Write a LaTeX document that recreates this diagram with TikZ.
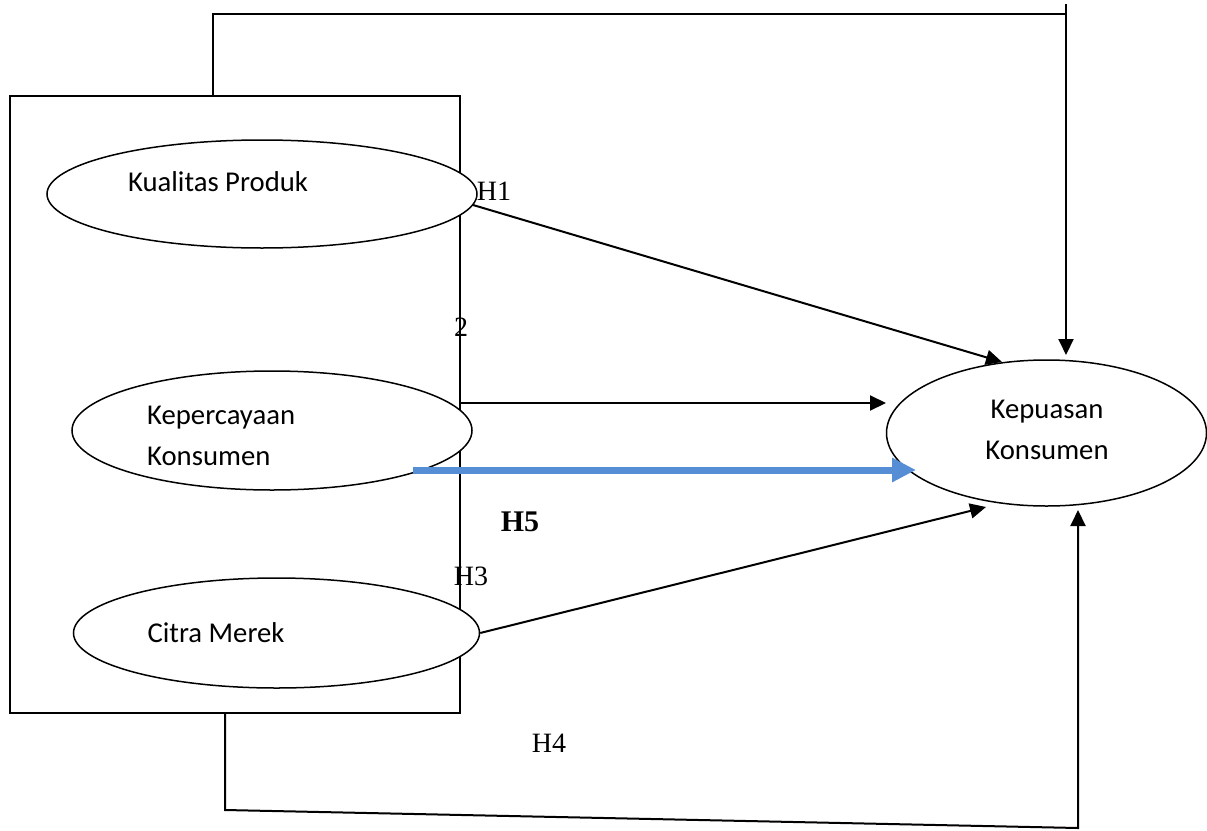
\documentclass[tikz,border=0pt]{standalone}
\usepackage{fontspec}
\setmainfont{Liberation Serif}
\newfontfamily\calib{Carlito}
\usetikzlibrary{shapes.geometric,arrows.meta}
\definecolor{arrowblue}{RGB}{85,142,213}
\begin{document}
\begin{tikzpicture}[x=1pt,y=-1pt,
  oval/.style={draw=black,fill=white,ellipse,line width=1.5pt,inner sep=0pt},
  lbl/.style={font=\calib\fontsize{28.7}{41}\selectfont,inner sep=0pt},
  hlbl/.style={font=\fontsize{28}{30}\selectfont,inner sep=0pt},
  conn/.style={line width=2pt,-{Triangle[length=16pt,width=15pt]}},
  plain/.style={line width=2pt}]
\useasboundingbox (0,0) rectangle (1207,830);
% outer box
\node[draw=black,line width=1.6pt,minimum width=450pt,minimum height=617pt,inner sep=0pt] (box) at (235,404.5) {};
% ellipses
\node[oval,minimum width=430pt,minimum height=108pt] (kp) at (262,194) {};
\node[oval,minimum width=400pt,minimum height=119pt] (kk) at (272,430.5) {};
\node[oval,minimum width=406pt,minimum height=110pt] (cm) at (276.5,633) {};
\node[oval,minimum width=320pt,minimum height=146pt] (ks) at (1046.5,433) {};
% texts
\node[lbl] (tkp) at (218,182) {Kualitas Produk};
\node[lbl,align=left,anchor=west] (tkk) at (147,436) {Kepercayaan\\Konsumen};
\node[lbl] (tcm) at (216,633) {Citra Merek};
\node[lbl,align=center] (tks) at (1047,430) {Kepuasan\\Konsumen};
% coordinates
\coordinate (t0) at (213,96);
\coordinate (t1) at (213,14);
\coordinate (t2) at (1066,14);
\coordinate (t3) at (1066,4);
\coordinate (t4) at (1066,355);
\coordinate (b0) at (225,713);
\coordinate (b1) at (225,810);
\coordinate (b2) at (1078,828);
\coordinate (b3) at (1078,510);
\coordinate (h2s) at (460,403);
\coordinate (h2e) at (886,403);
\coordinate (bls) at (413,470);
\coordinate (ble) at (916,470);
\coordinate (h1e) at (1002,362);
\coordinate (h3e) at (986,507);
% connectors
\draw[plain] (t0) -- (t1) -- (t2);
\draw[conn] (t3) -- (t4);
\draw[conn] (b0) -- (b1) -- (b2) -- (b3);
\draw[conn] (kp.-3) -- (h1e);
\draw[conn] (h2s) -- (h2e);
\draw[conn] (cm.east) -- (h3e);
\draw[line width=7pt,arrowblue,-{Triangle[length=24pt,width=23pt]}] (bls) -- (ble);
% labels
\node[hlbl] (lh1) at (494,191) {H1};
\node[hlbl] (lh2) at (461,327) {2};
\node[font=\bfseries\fontsize{30}{32}\selectfont,inner sep=0pt] (lh5) at (520,522) {H5};
\node[hlbl] (lh3) at (471,576) {H3};
\node[hlbl] (lh4) at (549,743) {H4};
\end{tikzpicture}
\end{document}
